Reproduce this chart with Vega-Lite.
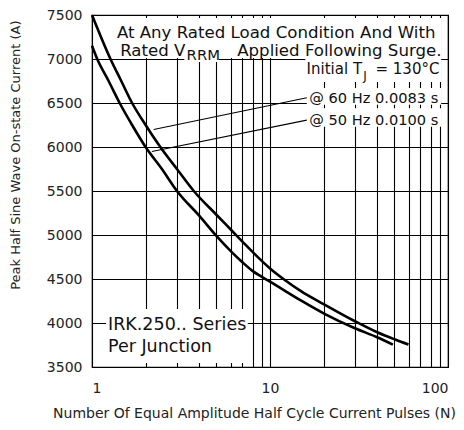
{
  "$schema": "https://vega.github.io/schema/vega-lite/v6.json",
  "width": 356,
  "height": 352,
  "autosize": "none",
  "padding": {"left": 92, "top": 15, "right": 16, "bottom": 63},
  "background": "white",
  "config": {"view": {"stroke": "#000", "strokeWidth": 1.2}, "font": "DejaVu Sans"},
  "layer": [
    {
      "data": {"values": [
        {"N": 1.36, "N2": 91.5, "I": 7182, "I2": 7466},
        {"N": 1.40, "N2": 91.5, "I": 7012, "I2": 7182},
        {"N": 3.30, "N2": 5.15, "I": 6966, "I2": 7012},
        {"N": 15.8, "N2": 91.5, "I": 6738, "I2": 7012},
        {"N": 16.1, "N2": 91.5, "I": 6480, "I2": 6670},
        {"N": 16.1, "N2": 91.5, "I": 6230, "I2": 6440},
        {"N": 1.20, "N2": 7.5, "I": 3545, "I2": 4159}
      ]},
      "mark": {"type": "rect", "fill": "white", "stroke": null},
      "encoding": {
        "x": {"field": "N", "type": "quantitative",
          "scale": {"type": "log", "domain": [1, 100], "nice": false},
          "axis": {
            "title": "Number Of Equal Amplitude Half Cycle Current Pulses (N)",
            "values": [1,2,3,4,5,6,7,8,9,10,20,30,40,50,60,70,80,90,100],
            "format": "d",
            "labelExpr": "datum.value == 1 || datum.value == 10 || datum.value == 100 ? datum.label : ''",
            "labelFlush": true, "labelOverlap": false,
            "grid": true, "gridColor": "#000", "gridWidth": 1.1, "gridOpacity": 1,
            "ticks": false, "tickSize": 0, "domain": false,
            "labelFontSize": 14, "labelColor": "#222", "labelPadding": 21, "labelBaseline": "middle",
            "titleFontSize": 14, "titleFontWeight": "normal", "titleColor": "#222",
            "titleX": 162, "titleY": 46, "titleBaseline": "middle"
          }},
        "x2": {"field": "N2"},
        "y": {"field": "I", "type": "quantitative",
          "scale": {"domain": [3500, 7500], "nice": false, "zero": false},
          "axis": {
            "title": "Peak Half Sine Wave On-state Current (A)",
            "values": [3500,3750,4000,4250,4500,4750,5000,5250,5500,5750,6000,6250,6500,6750,7000,7250,7500],
            "format": "d",
            "labelExpr": "datum.value % 500 == 0 ? datum.label : ''",
            "labelOverlap": false,
            "grid": true, "gridColor": "#000", "gridWidth": 1.1, "gridOpacity": 1,
            "ticks": false, "tickSize": 0, "domain": false,
            "labelFontSize": 14, "labelColor": "#222", "labelPadding": 10,
            "titleFontSize": 13, "titleFontWeight": "normal", "titleColor": "#222",
            "titleX": -77, "titleY": 5, "titleAlign": "right", "titleAnchor": "end", "titleBaseline": "middle"
          }},
        "y2": {"field": "I2"}
      }
    },
    {
      "data": {"values": [
        {"N": 1.38, "I": 7240, "t": "At Any Rated Load Condition And With"},
        {"N": 1.44, "I": 7035, "t": "Rated V"}
      ]},
      "mark": {"type": "text", "align": "left", "baseline": "alphabetic", "fontSize": 16.6, "color": "#111"},
      "encoding": {"x": {"field": "N", "type": "quantitative"}, "y": {"field": "I", "type": "quantitative"}, "text": {"field": "t"}}
    },
    {
      "data": {"values": [{"N": 3.40, "I": 6985, "t": "RRM"}]},
      "mark": {"type": "text", "align": "left", "baseline": "alphabetic", "fontSize": 14.8, "color": "#111"},
      "encoding": {"x": {"field": "N", "type": "quantitative"}, "y": {"field": "I", "type": "quantitative"}, "text": {"field": "t"}}
    },
    {
      "data": {"values": [{"N": 91.9, "I": 7035, "t": "Applied Following Surge."}]},
      "mark": {"type": "text", "align": "right", "baseline": "alphabetic", "fontSize": 16.6, "color": "#111"},
      "encoding": {"x": {"field": "N", "type": "quantitative"}, "y": {"field": "I", "type": "quantitative"}, "text": {"field": "t"}}
    },
    {
      "data": {"values": [
        {"N": 32.9, "I": 6830, "t": "Initial T"},
        {"N": 89.5, "I": 6830, "t": "= 130°C"}
      ]},
      "mark": {"type": "text", "align": "right", "baseline": "alphabetic", "fontSize": 15, "color": "#111"},
      "encoding": {"x": {"field": "N", "type": "quantitative"}, "y": {"field": "I", "type": "quantitative"}, "text": {"field": "t"}}
    },
    {
      "data": {"values": [{"N": 33.4, "I": 6765, "t": "J"}]},
      "mark": {"type": "text", "align": "left", "baseline": "alphabetic", "fontSize": 12, "color": "#111"},
      "encoding": {"x": {"field": "N", "type": "quantitative"}, "y": {"field": "I", "type": "quantitative"}, "text": {"field": "t"}}
    },
    {
      "data": {"values": [
        {"N": 88.2, "I": 6500, "t": "@ 60 Hz 0.0083 s"},
        {"N": 88.2, "I": 6250, "t": "@ 50 Hz 0.0100 s"}
      ]},
      "mark": {"type": "text", "align": "right", "baseline": "alphabetic", "fontSize": 14.6, "color": "#111"},
      "encoding": {"x": {"field": "N", "type": "quantitative"}, "y": {"field": "I", "type": "quantitative"}, "text": {"field": "t"}}
    },
    {
      "data": {"values": [
        {"N": 1.23, "I": 3916, "t": "IRK.250.. Series"},
        {"N": 1.23, "I": 3666, "t": "Per Junction"}
      ]},
      "mark": {"type": "text", "align": "left", "baseline": "alphabetic", "fontSize": 17.5, "color": "#111"},
      "encoding": {"x": {"field": "N", "type": "quantitative"}, "y": {"field": "I", "type": "quantitative"}, "text": {"field": "t"}}
    },
    {
      "data": {"values": [
        {"id": "60Hz", "N": 2.22, "I": 6198},
        {"id": "60Hz", "N": 16.1, "I": 6560},
        {"id": "50Hz", "N": 2.17, "I": 5948},
        {"id": "50Hz", "N": 16.1, "I": 6305}
      ]},
      "mark": {"type": "line", "color": "#000", "strokeWidth": 1.1},
      "encoding": {"x": {"field": "N", "type": "quantitative"}, "y": {"field": "I", "type": "quantitative"}, "detail": {"field": "id"}}
    },
    {
      "data": {"values": [
        {"s": "60Hz", "N": 1, "I": 7500},
        {"s": "60Hz", "N": 1.27, "I": 7000},
        {"s": "60Hz", "N": 1.46, "I": 6750},
        {"s": "60Hz", "N": 1.68, "I": 6500},
        {"s": "60Hz", "N": 2.0, "I": 6250},
        {"s": "60Hz", "N": 2.42, "I": 6000},
        {"s": "60Hz", "N": 3.0, "I": 5750},
        {"s": "60Hz", "N": 3.73, "I": 5500},
        {"s": "60Hz", "N": 5, "I": 5230},
        {"s": "60Hz", "N": 6, "I": 5065},
        {"s": "60Hz", "N": 7, "I": 4925},
        {"s": "60Hz", "N": 8, "I": 4805},
        {"s": "60Hz", "N": 10, "I": 4620},
        {"s": "60Hz", "N": 12, "I": 4495},
        {"s": "60Hz", "N": 15, "I": 4360},
        {"s": "60Hz", "N": 20, "I": 4215},
        {"s": "60Hz", "N": 30, "I": 4020},
        {"s": "60Hz", "N": 40, "I": 3895},
        {"s": "60Hz", "N": 50, "I": 3815},
        {"s": "60Hz", "N": 60, "I": 3755},
        {"s": "50Hz", "N": 1, "I": 7150},
        {"s": "50Hz", "N": 1.07, "I": 7000},
        {"s": "50Hz", "N": 1.24, "I": 6750},
        {"s": "50Hz", "N": 1.43, "I": 6500},
        {"s": "50Hz", "N": 1.68, "I": 6250},
        {"s": "50Hz", "N": 2.0, "I": 6000},
        {"s": "50Hz", "N": 2.47, "I": 5750},
        {"s": "50Hz", "N": 3.0, "I": 5500},
        {"s": "50Hz", "N": 4, "I": 5220},
        {"s": "50Hz", "N": 5, "I": 4990},
        {"s": "50Hz", "N": 6, "I": 4820},
        {"s": "50Hz", "N": 7, "I": 4690},
        {"s": "50Hz", "N": 8, "I": 4590},
        {"s": "50Hz", "N": 9, "I": 4525},
        {"s": "50Hz", "N": 10, "I": 4470},
        {"s": "50Hz", "N": 15, "I": 4253},
        {"s": "50Hz", "N": 20, "I": 4110},
        {"s": "50Hz", "N": 30, "I": 3940},
        {"s": "50Hz", "N": 40, "I": 3838},
        {"s": "50Hz", "N": 49, "I": 3755}
      ]},
      "mark": {"type": "line", "color": "#000", "strokeWidth": 2.6, "interpolate": "monotone"},
      "encoding": {"x": {"field": "N", "type": "quantitative"}, "y": {"field": "I", "type": "quantitative"}, "detail": {"field": "s"}}
    }
  ]
}
